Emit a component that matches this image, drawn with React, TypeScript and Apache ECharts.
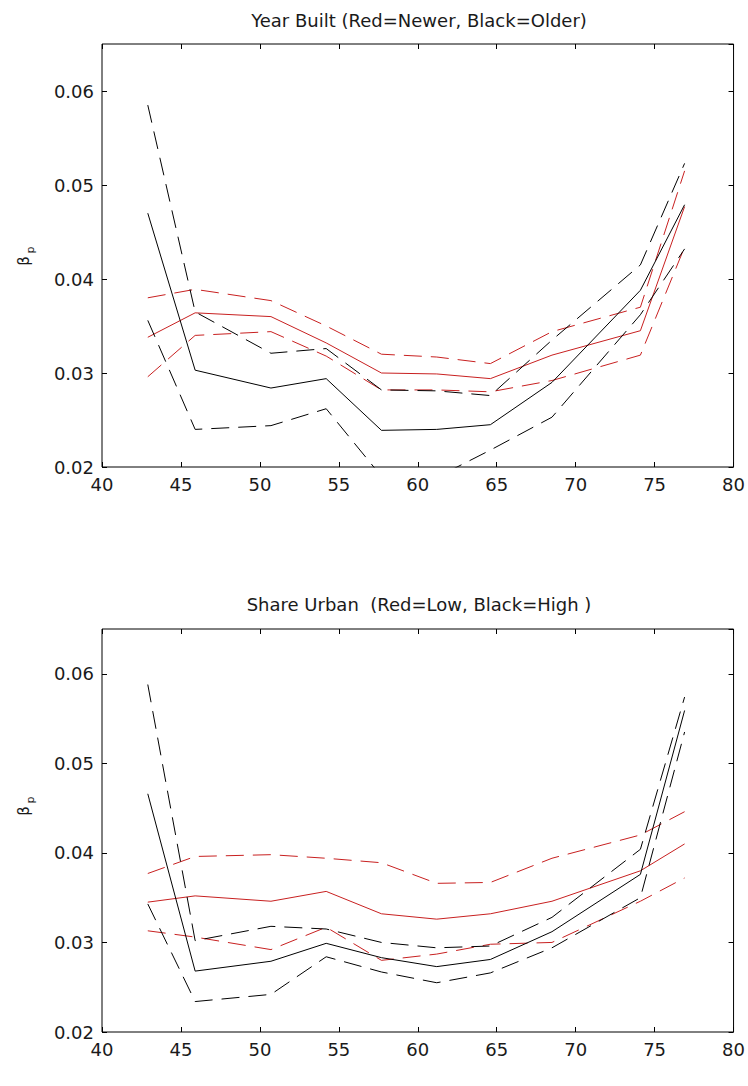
import React, { useEffect, useRef } from "react";
import * as echarts from "echarts";

// Age grid (x positions of the estimates)
const ages = [42.9, 45.9, 50.7, 54.2, 57.7, 61.2, 64.6, 68.5, 74.1, 76.9];

// Panel 1: Year Built (Red=Newer, Black=Older)
const topBlackMean = [0.0470, 0.0303, 0.0284, 0.0294, 0.0239, 0.0240, 0.0245, 0.0290, 0.0388, 0.0479];
const topBlackHi = [0.0585, 0.0365, 0.0321, 0.0326, 0.0282, 0.0281, 0.0276, 0.0335, 0.0415, 0.0523];
const topBlackLo = [0.0356, 0.0240, 0.0244, 0.0262, 0.0190, 0.0189, 0.0218, 0.0253, 0.0362, 0.0432];
const topRedMean = [0.0338, 0.0364, 0.0360, 0.0332, 0.0300, 0.0299, 0.0294, 0.0319, 0.0345, 0.0477];
const topRedHi = [0.0380, 0.0389, 0.0377, 0.0350, 0.0320, 0.0317, 0.0310, 0.0344, 0.0370, 0.0515];
const topRedLo = [0.0296, 0.0340, 0.0344, 0.0318, 0.0282, 0.0282, 0.0280, 0.0292, 0.0319, 0.0434];

// Panel 2: Share Urban (Red=Low, Black=High)
const botBlackMean = [0.0466, 0.0268, 0.0279, 0.0299, 0.0283, 0.0273, 0.0281, 0.0312, 0.0376, 0.0559];
const botBlackHi = [0.0588, 0.0302, 0.0318, 0.0315, 0.0300, 0.0294, 0.0296, 0.0328, 0.0404, 0.0574];
const botBlackLo = [0.0343, 0.0234, 0.0242, 0.0284, 0.0267, 0.0255, 0.0266, 0.0294, 0.0350, 0.0535];
const botRedMean = [0.0345, 0.0352, 0.0346, 0.0357, 0.0332, 0.0326, 0.0332, 0.0346, 0.0380, 0.0410];
const botRedHi = [0.0377, 0.0396, 0.0398, 0.0394, 0.0389, 0.0366, 0.0367, 0.0394, 0.0420, 0.0446];
const botRedLo = [0.0313, 0.0306, 0.0292, 0.0317, 0.0280, 0.0287, 0.0298, 0.0300, 0.0346, 0.0372];

const titles = ["Year Built (Red=Newer, Black=Older)", "Share Urban  (Red=Low, Black=High )"];
const xTicks = { min: 40, max: 80, interval: 5 };
const yTicks = { min: 0.02, max: 0.065, interval: 0.01 };

const FONT = "DejaVu Sans";
const RED = "#c82020";
const BLACK = "#000000";

export default function App() {
  const ref = useRef<HTMLDivElement>(null);
  useEffect(() => {
    if (!ref.current) return;
    const chart = echarts.init(ref.current, undefined, { renderer: "svg" });

    const grids = [
      { left: 102, right: 12, top: 44, height: 423 },
      { left: 102, right: 12, top: 629, height: 403 },
    ];

    const yFmt = (v: number) => {
      const r = Math.round(v * 100);
      return Math.abs(v * 100 - r) < 1e-6 ? (r / 100).toFixed(2) : "";
    };

    const xAxes: any[] = [];
    const yAxes: any[] = [];
    grids.forEach((_, gi) => {
      ["bottom", "top"].forEach((pos) => {
        xAxes.push({
          type: "value",
          gridIndex: gi,
          position: pos,
          min: xTicks.min,
          max: xTicks.max,
          interval: xTicks.interval,
          axisLine: { show: false },
          axisTick: { show: true, inside: true, length: 5, lineStyle: { color: "#000", width: 1 } },
          axisLabel: {
            show: pos === "bottom",
            margin: 8,
            fontFamily: FONT,
            fontSize: 18,
            color: "#1a1a1a",
          },
          splitLine: { show: false },
        });
      });
      ["left", "right"].forEach((pos) => {
        yAxes.push({
          type: "value",
          gridIndex: gi,
          position: pos,
          min: yTicks.min,
          max: yTicks.max,
          interval: yTicks.interval,
          axisLine: { show: false },
          axisTick: { show: true, inside: true, length: 5, lineStyle: { color: "#000", width: 1 } },
          axisLabel: {
            show: pos === "left",
            margin: 8,
            fontFamily: FONT,
            fontSize: 18,
            color: "#1a1a1a",
            formatter: yFmt,
            showMaxLabel: false,
          },
          splitLine: { show: false },
        });
      });
    });

    const mk = (vals: number[], color: string, dashed: boolean, gi: number) => ({
      type: "line",
      xAxisIndex: gi * 2,
      yAxisIndex: gi * 2,
      data: ages.map((a, i) => [a, vals[i]]),
      symbol: "none",
      clip: true,
      lineStyle: { color, width: 1, type: dashed ? [18, 9] : "solid" },
      silent: true,
    });

    const series = [
      mk(topRedHi, RED, true, 0),
      mk(topRedMean, RED, false, 0),
      mk(topRedLo, RED, true, 0),
      mk(topBlackHi, BLACK, true, 0),
      mk(topBlackMean, BLACK, false, 0),
      mk(topBlackLo, BLACK, true, 0),
      mk(botRedHi, RED, true, 1),
      mk(botRedMean, RED, false, 1),
      mk(botRedLo, RED, true, 1),
      mk(botBlackHi, BLACK, true, 1),
      mk(botBlackMean, BLACK, false, 1),
      mk(botBlackLo, BLACK, true, 1),
    ];

    const ylabel = (cx: number, cy: number) => ({
      type: "group",
      x: cx,
      y: cy,
      rotation: Math.PI / 2,
      children: [
        {
          type: "text",
          x: -5,
          y: 0,
          style: { text: "β", fontFamily: FONT, fontSize: 15, fill: "#1a1a1a", align: "center", verticalAlign: "middle" },
        },
        {
          type: "text",
          x: 6,
          y: 6,
          style: { text: "p", fontFamily: FONT, fontSize: 11, fill: "#1a1a1a", align: "center", verticalAlign: "middle" },
        },
      ],
    });

    chart.setOption({
      animation: false,
      backgroundColor: "#ffffff",
      grid: grids.map((g) => ({
        ...g,
        show: true,
        borderColor: "#000",
        borderWidth: 1,
        backgroundColor: "transparent",
      })),
      xAxis: xAxes,
      yAxis: yAxes,
      series,
      graphic: [
        {
          type: "text",
          x: 419,
          y: 20,
          style: { text: titles[0], fontFamily: FONT, fontSize: 18, fill: "#1a1a1a", align: "center", verticalAlign: "middle" },
        },
        {
          type: "text",
          x: 419,
          y: 604,
          style: { text: titles[1], fontFamily: FONT, fontSize: 18, fill: "#1a1a1a", align: "center", verticalAlign: "middle" },
        },
        ylabel(24, 256),
        ylabel(24, 806),
      ],
    });

    return () => chart.dispose();
  }, []);

  return (
    <div
      ref={ref}
      style={{ position: "absolute", left: 0, top: 0, width: 748, height: 1086, background: "#fff" }}
    />
  );
}
